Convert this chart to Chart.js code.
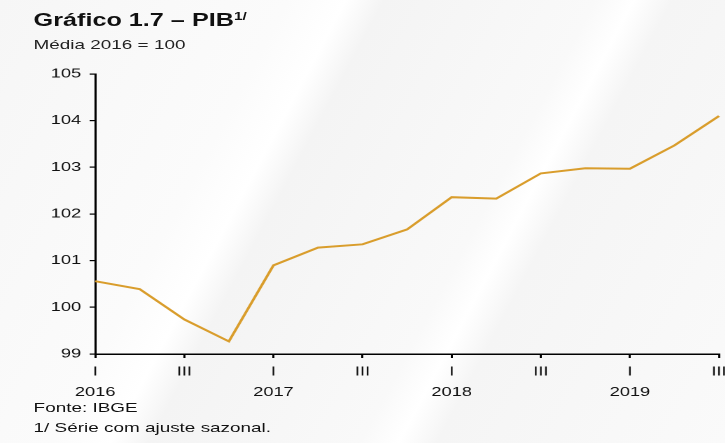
<!DOCTYPE html>
<html>
<head>
<meta charset="utf-8">
<script src="https://cdn.jsdelivr.net/npm/chart.js@4.4.0/dist/chart.umd.min.js"></script>
<style>
    html, body { margin: 0; padding: 0; }
    body {
        width: 725px; height: 443px; overflow: hidden;
        background: linear-gradient(118deg, #f6f6f6 0%, #fbfbfb 30%, #ffffff 36%, #f4f4f4 40%, #f9f9f9 62%, #ffffff 66%, #f5f5f5 70%, #fafafa 100%);
        font-family: "Liberation Sans", Arial, sans-serif; color: #111;
    }
    /* the reference is stretched sideways, so draw narrow and widen */
    #wrap {
        position: absolute; left: 0; top: 0; width: 518px; height: 443px;
        transform: scaleX(1.4); transform-origin: 0 0;
    }
    #title { position: absolute; left: 24px; top: 10px; font-size: 18px; font-weight: bold; white-space: nowrap; }
    #title sup { font-size: 11px; vertical-align: 6px; }
    #subtitle { position: absolute; left: 24px; top: 37px; font-size: 13.5px; white-space: nowrap; color: #222; }
    #fonte { position: absolute; left: 24px; top: 400px; font-size: 13.5px; white-space: nowrap; }
    #nota { position: absolute; left: 24px; top: 420px; font-size: 13.5px; white-space: nowrap; }
    canvas { position: absolute; left: 0; top: 0; }
</style>
</head>
<body>
<div id="wrap">
    <div id="title">Gráfico 1.7 – PIB<sup>1/</sup></div>
    <div id="subtitle">Média 2016 = 100</div>
    <canvas id="pibChart" width="518" height="443"></canvas>
    <div id="fonte">Fonte: IBGE</div>
    <div id="nota">1/ Série com ajuste sazonal.</div>
</div>
<script>
const quarters = ['I', 'II', 'III', 'IV', 'I', 'II', 'III', 'IV', 'I', 'II', 'III', 'IV', 'I', 'II', 'III'];
const years = ['2016', '2016', '2016', '2016', '2017', '2017', '2017', '2017', '2018', '2018', '2018', '2018', '2019', '2019', '2019'];
const pib = [100.56, 100.39, 99.74, 99.27, 100.90, 101.28, 101.35, 101.67, 102.36, 102.33, 102.87, 102.98, 102.97, 103.47, 104.10];

const tickFont = { family: '"Liberation Sans", Arial, sans-serif', size: 13 };

new Chart(document.getElementById('pibChart'), {
    type: 'line',
    data: {
        labels: quarters,
        datasets: [{
            data: pib,
            borderColor: '#d99d2c',
            borderWidth: 2,
            pointRadius: 0,
            tension: 0,
            fill: false
        }]
    },
    options: {
        responsive: false,
        animation: false,
        devicePixelRatio: 2,
        layout: { padding: { top: 74, right: 4.4, left: 0, bottom: 0 } },
        plugins: { legend: { display: false }, tooltip: { enabled: false } },
        scales: {
            x: {
                offset: false,
                afterFit: (scale) => {
                    scale.height = 89;
                    scale.paddingRight = 0;
                },
                border: { color: '#000', width: 1.5 },
                grid: {
                    drawOnChartArea: false,
                    tickLength: 4,
                    color: (ctx) => ctx.index % 2 === 0 ? '#000' : 'rgba(0,0,0,0)',
                    lineWidth: 1.5
                },
                ticks: {
                    autoSkip: false,
                    maxRotation: 0,
                    padding: 4,
                    color: '#111',
                    font: { ...tickFont, lineHeight: 1.55 },
                    callback: function (value, index) {
                        const q = quarters[index];
                        if (q === 'I') return [q, years[index]];
                        if (q === 'III') return q;
                        return '';
                    }
                }
            },
            y: {
                min: 99,
                max: 105,
                afterFit: (scale) => { scale.width = 68; },
                border: { color: '#000', width: 1.5 },
                grid: { drawOnChartArea: false, tickLength: 4, color: '#000', lineWidth: 1.2 },
                ticks: { stepSize: 1, padding: 6, color: '#111', font: tickFont }
            }
        }
    }
});
</script>
</body>
</html>
